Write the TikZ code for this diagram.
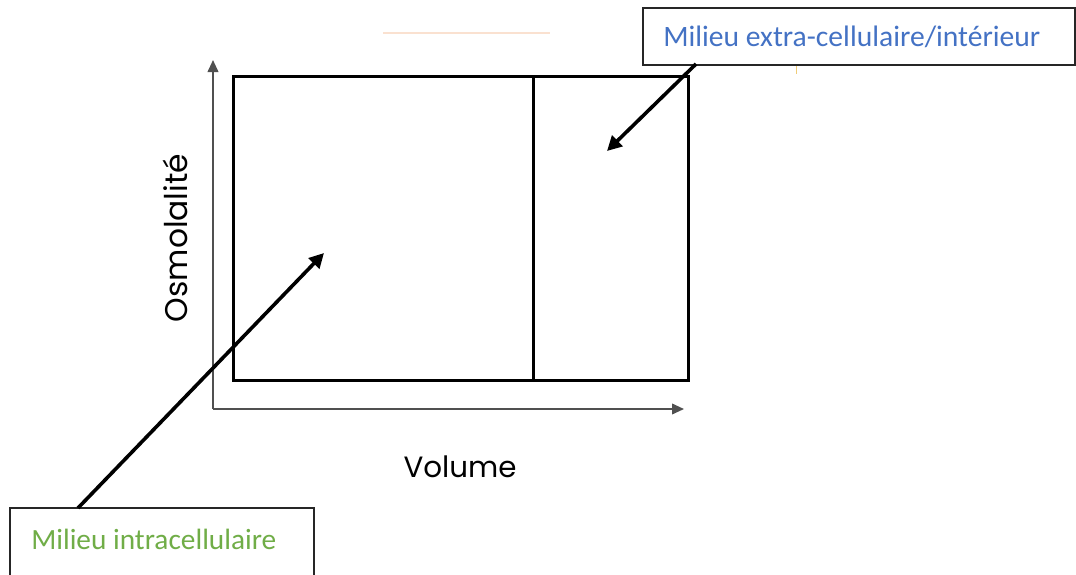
\documentclass[tikz,border=0pt]{standalone}
\usepackage{fontspec}
\setmainfont{Carlito}
\newfontfamily\geofont{Poppins}
\usetikzlibrary{arrows.meta}
\definecolor{wblue}{HTML}{4472C4}
\definecolor{wgreen}{HTML}{70AD47}
\definecolor{axisgray}{HTML}{505050}
\definecolor{faintorange}{RGB}{250,225,208}
\definecolor{faintyellow}{RGB}{240,205,120}
\tikzset{
  frame/.style={line width=2.3pt, draw=black},
  axisline/.style={line width=1.3pt, draw=axisgray, -{Triangle[length=9pt,width=8pt]}},
  pointer/.style={line width=2.7pt, draw=black, -{Triangle[length=11pt,width=11pt]}},
  calloutbox/.style={draw=black!85, line width=1.2pt, rectangle, inner sep=0pt},
  callouttext/.style={font=\fontsize{22.2}{25}\selectfont, anchor=west, inner sep=0pt},
  axislabel/.style={font=\geofont\fontsize{22}{26}\selectfont, inner sep=0pt}
}
\begin{document}
\begin{tikzpicture}[x=0.75pt,y=-0.75pt]
\useasboundingbox (0,0) rectangle (1076,575);
% faint stray marks
\draw[faintorange, line width=1.2pt] (383,33) -- (550,33);
\draw[faintyellow, line width=0.6pt] (796,65) -- (796,74);
% axes
\coordinate (origin) at (213,409);
\coordinate (ytip) at (213,60);
\coordinate (xtip) at (684,409);
\draw[axisline] (origin) -- (ytip);
\draw[axisline] (origin) -- (xtip);
% compartments
\node[frame, rectangle, minimum width=225pt, minimum height=228pt, inner sep=0pt, anchor=north west] (icf) at (232,75) {};
\node[frame, rectangle, minimum width=116.25pt, minimum height=228pt, inner sep=0pt, anchor=north west] (ecf) at (532,75) {};
% axis labels
\node[axislabel, rotate=90, font=\geofont\fontsize{23.5}{27}\selectfont] (ylab) at (175,238) {Osmolalité};
\node[axislabel] (xlab) at (460,467) {Volume};
% callout boxes
\node[calloutbox, minimum width=324pt, minimum height=42.75pt, anchor=north west] (extbox) at (642,7) {};
\node[callouttext, text=wblue] (exttext) at (663,37) {Milieu extra-cellulaire/intérieur};
\draw[draw=black!85, line width=1.2pt] (10,580) -- (10,508) -- (314,508) -- (314,580);
\coordinate (intboxtop) at (78,508);
\node[callouttext, text=wgreen, font=\fontsize{22}{25}\selectfont] (inttext) at (31,539) {Milieu intracellulaire};
% pointers
\coordinate (exttail) at (696,64);
\coordinate (exthead) at (607,151);
\coordinate (inthead) at (324,253);
\draw[pointer] (exttail) -- (exthead);
\draw[pointer] (intboxtop) -- (inthead);
\end{tikzpicture}
\end{document}
